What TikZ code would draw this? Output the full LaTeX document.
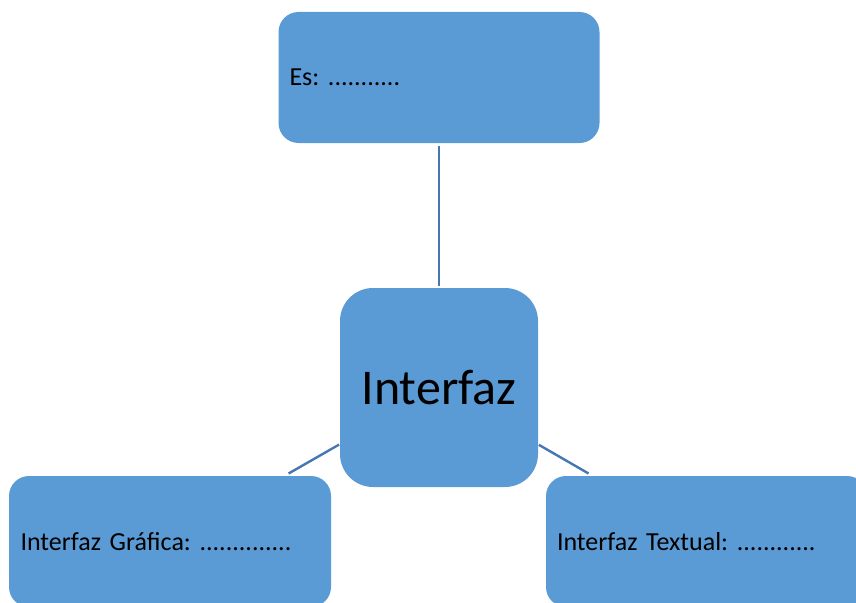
\documentclass[tikz,border=0pt]{standalone}
\usepackage{fontspec}
\setmainfont{Carlito}
\usepackage{xcolor}
\usepackage{tikz}
\usetikzlibrary{positioning}

\definecolor{boxblue}{HTML}{5B9BD5}
\definecolor{lineblue}{HTML}{4677B3}
\frenchspacing

\begin{document}
\begin{tikzpicture}[
    box/.style={rectangle, rounded corners=20pt, fill=boxblue, minimum width=321pt, minimum height=131pt, text width=299pt, inner xsep=11pt, align=left, outer sep=0pt, font=\fontsize{26pt}{31pt}\selectfont},
    mainbox/.style={rectangle, rounded corners=33pt, fill=boxblue, minimum width=198pt, minimum height=199pt, outer sep=0pt, font=\fontsize{50pt}{60pt}\selectfont},
    link/.style={draw=lineblue, line width=2.4pt},
]
\path[use as bounding box, clip] (0,0) rectangle (856pt,-602pt);

% Center
\node[mainbox] (cent) at (439pt,-387.5pt) {Interfaz};

% Top
\node[box, above=145pt of cent] (es) {Es: ...........};

% Bottom left / bottom right
\node[box, below left=-11pt and 9pt of cent, minimum width=322pt] (grafica) {Interfaz Gráfica: ..............};
\node[box, below right=-11pt and 8pt of cent] (textual) {Interfaz Textual: ............};

% Links
\draw[link, shorten <=3pt, shorten >=2pt] (es) -- (cent);
\draw[link, shorten <=1pt, shorten >=5pt] (cent) -- (grafica);
\draw[link, shorten <=1pt, shorten >=5pt] (cent) -- (textual);
\end{tikzpicture}
\end{document}
